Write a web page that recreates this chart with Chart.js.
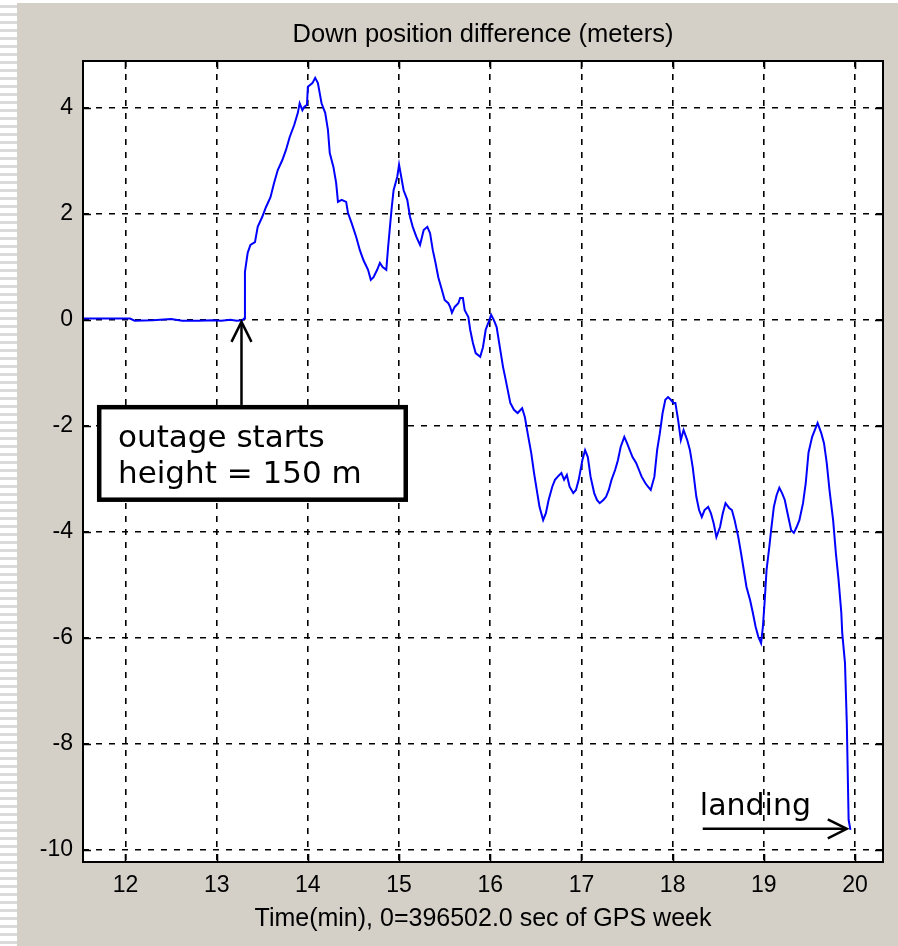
<!DOCTYPE html>
<html><head><meta charset="utf-8">
<script src="https://cdn.jsdelivr.net/npm/chart.js@4.4.0/dist/chart.umd.min.js"></script>
<style>
html,body{margin:0;padding:0;background:#fff;width:898px;height:946px;overflow:hidden;}
#strip{position:absolute;left:0;top:0;width:17px;height:946px;background:repeating-linear-gradient(to bottom,#ffffff 0px,#ffffff 5px,#dadada 5px,#dadada 8px);}
#panel{position:absolute;left:17px;top:3px;width:881px;height:943px;background:#d4d0c8;}
canvas{display:block;}
</style></head><body>
<div id="strip"></div>
<div id="panel"><canvas id="c" width="881" height="943"></canvas></div>
<script>
// ---- data ----
const timeMin = [
 11.53,11.80,12.05,12.10,12.30,12.50,12.62,12.80,12.95,13.05,13.15,13.22,13.28,13.30,
 13.31,13.34,13.37,13.42,13.45,13.50,13.54,13.59,13.63,13.67,13.72,13.76,13.80,13.85,13.89,13.91,13.94,13.96,13.99,14.00,
 14.05,14.08,14.11,14.13,14.15,14.19,14.22,14.24,14.28,14.31,14.33,14.37,14.42,14.44,14.48,14.53,14.57,14.61,14.66,14.69,
 14.72,14.76,14.79,14.82,14.86,14.88,14.90,14.92,14.94,14.98,15.00,
 15.05,15.09,15.12,15.15,15.19,15.23,15.27,15.31,15.34,15.37,15.40,15.43,15.47,15.50,15.54,15.56,15.58,15.61,15.65,15.67,
 15.70,15.72,15.76,15.78,15.81,15.84,15.89,15.92,15.95,15.99,16.01,16.04,16.07,16.11,16.14,16.17,
 16.22,16.26,16.30,16.35,16.38,16.41,16.45,16.48,16.51,16.54,16.58,16.61,16.64,16.68,16.71,16.74,16.78,16.81,16.84,16.87,
 16.91,16.94,16.97,
 17.01,17.04,17.07,17.10,17.14,17.17,17.20,17.24,17.27,17.30,17.33,17.37,17.40,17.43,17.47,17.50,17.53,17.56,17.60,17.63,
 17.66,17.70,17.73,17.76,17.80,17.83,17.86,17.89,17.92,17.95,17.98,
 18.01,18.03,18.06,18.09,18.12,18.16,18.19,18.22,18.26,18.29,18.32,18.35,18.39,18.42,18.45,18.48,18.52,18.55,18.58,18.62,
 18.65,18.68,18.72,18.75,18.78,18.81,18.85,18.88,18.91,18.94,18.97,
 18.99,19.01,19.03,19.06,19.08,19.11,19.14,19.17,19.20,19.23,19.26,19.30,19.33,19.36,19.39,19.43,19.46,19.49,19.53,19.56,
 19.59,19.63,19.66,19.69,19.72,19.76,19.79,19.82,19.85,19.86,19.89,19.91,19.93,19.95
];
const downDiff = [
 0.02,0.02,0.02,-0.02,-0.01,0.01,-0.02,-0.02,-0.01,-0.02,0.00,-0.02,-0.01,0.02,
 0.90,1.26,1.41,1.46,1.75,1.94,2.12,2.31,2.58,2.82,3.01,3.20,3.44,3.67,3.90,4.08,3.95,4.01,4.05,4.39,
 4.46,4.56,4.46,4.27,4.08,3.90,3.58,3.14,2.88,2.58,2.22,2.26,2.22,2.01,1.82,1.56,1.31,1.12,0.94,0.75,
 0.80,0.94,1.07,0.99,0.94,1.37,1.75,2.12,2.44,2.69,2.92,
 2.44,2.26,1.94,1.75,1.56,1.41,1.69,1.75,1.63,1.31,1.07,0.80,0.56,0.37,0.31,0.24,0.13,0.24,0.31,0.41,
 0.41,0.18,0.05,-0.19,-0.44,-0.63,-0.70,-0.52,-0.19,-0.01,0.09,-0.01,-0.14,-0.57,-0.89,-1.14,
 -1.57,-1.70,-1.76,-1.67,-1.84,-2.14,-2.52,-2.89,-3.21,-3.53,-3.78,-3.65,-3.40,-3.15,-3.02,-2.96,-2.89,-3.02,-2.93,-3.15,
 -3.27,-3.21,-3.02,
 -2.65,-2.46,-2.59,-2.96,-3.27,-3.40,-3.46,-3.40,-3.34,-3.21,-3.02,-2.83,-2.65,-2.40,-2.21,-2.33,-2.46,-2.59,-2.70,-2.83,
 -2.96,-3.08,-3.15,-3.21,-2.96,-2.46,-2.14,-1.76,-1.51,-1.46,-1.51,
 -1.57,-1.57,-1.89,-2.27,-2.08,-2.27,-2.46,-2.78,-3.34,-3.59,-3.72,-3.59,-3.53,-3.65,-3.84,-4.10,-3.91,-3.65,-3.46,-3.55,
 -3.59,-3.78,-4.10,-4.40,-4.72,-5.04,-5.29,-5.53,-5.79,-5.98,-6.10,
 -5.79,-5.29,-4.72,-4.29,-3.97,-3.53,-3.31,-3.17,-3.27,-3.40,-3.65,-3.97,-4.02,-3.91,-3.78,-3.46,-3.08,-2.51,-2.21,-2.08,
 -1.95,-2.14,-2.33,-2.70,-3.21,-3.78,-4.40,-4.91,-5.53,-5.91,-6.47,-7.60,-9.43,-9.62
];
const xRange = [11.534, 20.307];
const yRange = [-10.226, 4.877];
const xTickValues = [12,13,14,15,16,17,18,19,20];
const xTickLabels = ['12','13','14','15','16','17','18','19','20'];
const yTickValues = [-10,-8,-6,-4,-2,0,2,4];
const yTickLabels = ['-10','-8','-6','-4','-2','0','2','4'];
const titleText = 'Down position difference (meters)';
const xTitleText = 'Time(min), 0=396502.0 sec of GPS week';
// annotations (in data coordinates)
const outageLines = ['outage starts', 'height = 150 m'];
const outageBoxX = [11.687, 15.098];
const outageBoxY = [-1.608, -3.437];
const outageTextX = 11.918;
const outageTextY = [-2.40, -3.078];
const outageArrowX = 13.272;
const outageArrowY = [-1.608, -0.042];
const landingText = 'landing';
const landingTextPos = [18.298, -9.339];
const landingArrowX = [18.33, 19.91];
const landingArrowY = -9.60;

const points = timeMin.map((t, i) => ({x: t, y: downDiff[i]}));

function arrowHead(ctx, tx, ty, dx, dy, len, half) {
  const bx = tx - dx * len, by = ty - dy * len;
  const px = -dy, py = dx;
  ctx.beginPath();
  ctx.moveTo(bx + px * half, by + py * half);
  ctx.lineTo(tx, ty);
  ctx.lineTo(bx - px * half, by - py * half);
  ctx.stroke();
}

const frame = {
  id: 'frame',
  beforeDraw(chart) {
    const {ctx, chartArea: a} = chart;
    ctx.save();
    ctx.fillStyle = '#ffffff';
    ctx.fillRect(a.left, a.top, a.right - a.left, a.bottom - a.top);
    ctx.restore();
  },
  afterDraw(chart) {
    const {ctx, chartArea: a, scales: {x, y}} = chart;
    ctx.save();
    ctx.setLineDash([]);
    ctx.strokeStyle = '#000';
    ctx.lineWidth = 1.6;
    ctx.beginPath();
    xTickValues.forEach(v => {
      const p = Math.round(x.getPixelForValue(v)) + 0.5;
      ctx.moveTo(p, a.bottom); ctx.lineTo(p, a.bottom - 8);
      ctx.moveTo(p, a.top); ctx.lineTo(p, a.top + 8);
    });
    yTickValues.forEach(v => {
      const p = Math.round(y.getPixelForValue(v)) + 0.5;
      ctx.moveTo(a.left, p); ctx.lineTo(a.left + 8, p);
      ctx.moveTo(a.right, p); ctx.lineTo(a.right - 8, p);
    });
    ctx.stroke();
    ctx.lineWidth = 2;
    ctx.strokeRect(a.left, a.top, a.right - a.left, a.bottom - a.top);
    // title
    ctx.fillStyle = '#000';
    ctx.font = '25.5px "Liberation Sans", Arial, sans-serif';
    ctx.textAlign = 'center';
    ctx.textBaseline = 'alphabetic';
    ctx.fillText(titleText, (a.left + a.right) / 2, 39);

    // outage box
    const bl = x.getPixelForValue(outageBoxX[0]), br = x.getPixelForValue(outageBoxX[1]);
    const bt = y.getPixelForValue(outageBoxY[0]), bb = y.getPixelForValue(outageBoxY[1]);
    ctx.fillStyle = '#fff';
    ctx.fillRect(bl, bt, br - bl, bb - bt);
    ctx.lineWidth = 4.5;
    ctx.strokeRect(bl + 2.25, bt + 2.25, br - bl - 4.5, bb - bt - 4.5);
    ctx.fillStyle = '#000';
    ctx.font = '31px "DejaVu Sans", Verdana, sans-serif';
    ctx.textAlign = 'left';
    ctx.textBaseline = 'alphabetic';
    outageLines.forEach((s, i) => ctx.fillText(s, x.getPixelForValue(outageTextX), y.getPixelForValue(outageTextY[i])));
    const ax = x.getPixelForValue(outageArrowX);
    const ay0 = y.getPixelForValue(outageArrowY[0]), ay1 = y.getPixelForValue(outageArrowY[1]);
    ctx.lineWidth = 2.5;
    ctx.beginPath(); ctx.moveTo(ax, ay0); ctx.lineTo(ax, ay1 + 1); ctx.stroke();
    arrowHead(ctx, ax, ay1, 0, -1, 20, 10);
    // landing
    ctx.font = '30px "DejaVu Sans", Verdana, sans-serif';
    ctx.fillText(landingText, x.getPixelForValue(landingTextPos[0]), y.getPixelForValue(landingTextPos[1]));
    const lx0 = x.getPixelForValue(landingArrowX[0]), lx1 = x.getPixelForValue(landingArrowX[1]);
    const ly = y.getPixelForValue(landingArrowY);
    ctx.beginPath(); ctx.moveTo(lx0, ly); ctx.lineTo(lx1 - 1, ly); ctx.stroke();
    arrowHead(ctx, lx1, ly, 1, 0, 19, 9.5);
    ctx.restore();
  }
};

new Chart(document.getElementById('c'), {
  type: 'scatter',
  data: {
    datasets: [{
      data: points,
      showLine: true,
      borderColor: '#0000ff',
      backgroundColor: '#0000ff',
      borderWidth: 2,
      pointRadius: 0,
      tension: 0,
      fill: false
    }]
  },
  options: {
    responsive: false,
    animation: false,
    events: [],
    layout: {padding: {left: 0, top: 58, right: 15, bottom: 0}},
    plugins: {legend: {display: false}, title: {display: false}, tooltip: {enabled: false}},
    scales: {
      x: {
        type: 'linear',
        min: xRange[0], max: xRange[1],
        afterBuildTicks: s => { s.ticks = xTickValues.map(v => ({value: v})); },
        afterFit: s => { s.height = 84; },
        ticks: {
          color: '#000', padding: 10, maxRotation: 0, autoSkip: false,
          font: {family: '"Liberation Sans", Arial, sans-serif', size: 23},
          callback: v => xTickLabels[xTickValues.indexOf(v)]
        },
        grid: {color: '#000', lineWidth: 1.6, drawTicks: false},
        border: {display: false, dash: [6, 7]},
        title: {
          display: true, text: xTitleText, color: '#000', padding: {top: 12, bottom: 12},
          font: {family: '"Liberation Sans", Arial, sans-serif', size: 25}
        }
      },
      y: {
        type: 'linear',
        min: yRange[0], max: yRange[1],
        afterBuildTicks: s => { s.ticks = yTickValues.map(v => ({value: v})); },
        afterFit: s => { s.width = 66; },
        ticks: {
          color: '#000', padding: 10, autoSkip: false,
          font: {family: '"Liberation Sans", Arial, sans-serif', size: 23},
          callback: v => yTickLabels[yTickValues.indexOf(v)]
        },
        grid: {color: '#000', lineWidth: 1.6, drawTicks: false},
        border: {display: false, dash: [6, 7]}
      }
    }
  },
  plugins: [frame]
});
</script>
</body></html>
